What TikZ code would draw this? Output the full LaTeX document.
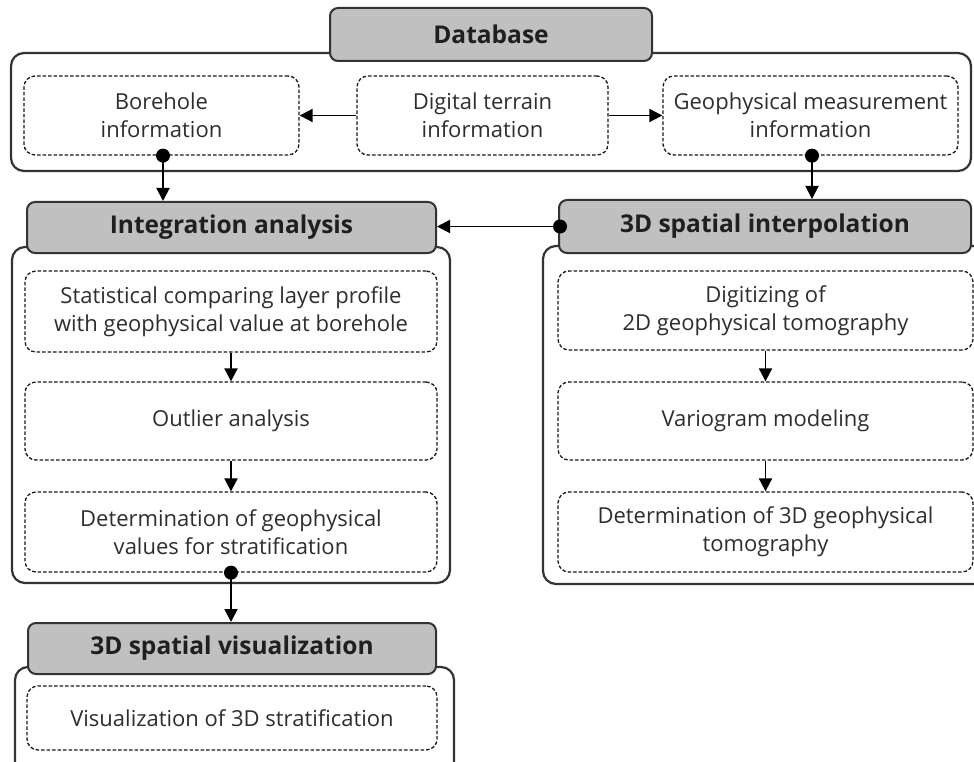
\documentclass[tikz,border=0pt]{standalone}
\usepackage{fontspec}
\setmainfont{Open Sans}
\usetikzlibrary{arrows.meta}
\definecolor{headfill}{HTML}{C0C0C0}
\definecolor{edge}{HTML}{333333}
\definecolor{txt}{HTML}{2E2E2E}
\tikzset{
  headbox/.style={draw=edge, line width=2pt, fill=headfill, rounded corners=8pt,
    inner sep=0pt, font=\fontsize{24.5}{29}\selectfont\bfseries, text=black!88},
  groupbox/.style={draw=edge, line width=2.2pt, fill=white, rounded corners=13pt, inner sep=0pt},
  itembox/.style={draw=black!90, line width=1.3pt, dash pattern=on 3.5pt off 2pt, fill=white,
    rounded corners=11pt, inner sep=0pt, align=center, text=txt,
    font=\fontsize{22}{28}\selectfont},
  flow/.style={draw=black, line width=1.9pt, -{Triangle[width=13pt,length=13pt]}},
  dotmark/.style={fill=black},
}
\begin{document}
\begin{tikzpicture}[x=1pt,y=-1pt]
\useasboundingbox (0,0) rectangle (974,762);
\clip (0,0) rectangle (974,762);
\fill[white] (0,0) rectangle (974,762);

% ---- Database group ----
\node[groupbox, minimum width=960pt, minimum height=118pt] (dbgroup) at (491,112) {};
\node[headbox, minimum width=322pt, minimum height=53pt] (dbhead) at (491,34.5) {Database};
\node[itembox, minimum width=275pt, minimum height=79pt] (bore) at (161.5,115.5) {Borehole\\information};
\node[itembox, minimum width=251pt, minimum height=79pt] (dtm) at (482.5,115.5) {Digital terrain\\information};
\node[itembox, minimum width=295pt, minimum height=79pt] (geo) at (810.5,115.5) {Geophysical measurement\\information};

% ---- Integration analysis group ----
\node[groupbox, minimum width=438pt, minimum height=336pt] (igroup) at (231,415) {};
\node[headbox, minimum width=409pt, minimum height=51pt] (ihead) at (231.5,227.5) {Integration analysis};
\node[itembox, minimum width=412pt, minimum height=81pt] (ia) at (231,311.5) {Statistical comparing layer profile\\with geophysical value at borehole};
\node[itembox, minimum width=412pt, minimum height=78pt] (ib) at (231,421) {Outlier analysis};
\node[itembox, minimum width=412pt, minimum height=80pt] (ic) at (231,532) {Determination of geophysical\\values for stratification};

% ---- 3D spatial interpolation group ----
\node[groupbox, minimum width=447pt, minimum height=338pt] (sgroup) at (766.5,415) {};
\node[headbox, minimum width=412pt, minimum height=53pt] (shead) at (765,226.5) {3D spatial interpolation};
\node[itembox, minimum width=415pt, minimum height=79pt] (sa) at (765.5,310.5) {Digitizing of\\2D geophysical tomography};
\node[itembox, minimum width=415pt, minimum height=78pt] (sb) at (765.5,421) {Variogram modeling};
\node[itembox, minimum width=415pt, minimum height=80pt] (sc) at (765.5,532) {Determination of 3D geophysical\\tomography};

% ---- 3D spatial visualization group ----
\node[groupbox, minimum width=439pt, minimum height=133pt] (vgroup) at (234.5,733.5) {};
\node[headbox, minimum width=408pt, minimum height=51pt] (vhead) at (232,648.5) {3D spatial visualization};
\node[itembox, minimum width=410pt, minimum height=64pt] (va) at (232,718) {Visualization of 3D stratification};

% ---- connectors ----
\draw[flow] (dtm.west) -- (bore.east);
\draw[flow] (dtm.east) -- (geo.west);
\coordinate (boreout) at ([xshift=1.5pt]bore.south);
\draw[flow] (boreout) -- (boreout |- ihead.north);
\fill[dotmark] (boreout) circle (7pt);
\coordinate (geoout) at ([xshift=1.5pt]geo.south);
\draw[flow] (geoout) -- (geoout |- shead.north);
\fill[dotmark] (geoout) circle (7pt);
\coordinate (sheadout) at ([xshift=2pt]shead.west);
\draw[flow] (sheadout) -- (sheadout -| ihead.east);
\fill[dotmark] (sheadout) circle (7pt);
\draw[flow] (ia.south) -- (ib.north);
\draw[flow] (ib.south) -- (ic.north);
\draw[flow] (ic.south) -- (ic.south |- vhead.north);
\fill[dotmark] (ic.south) circle (7pt);
\draw[flow] (sa.south) -- (sb.north);
\draw[flow] (sb.south) -- (sc.north);
\end{tikzpicture}
\end{document}
